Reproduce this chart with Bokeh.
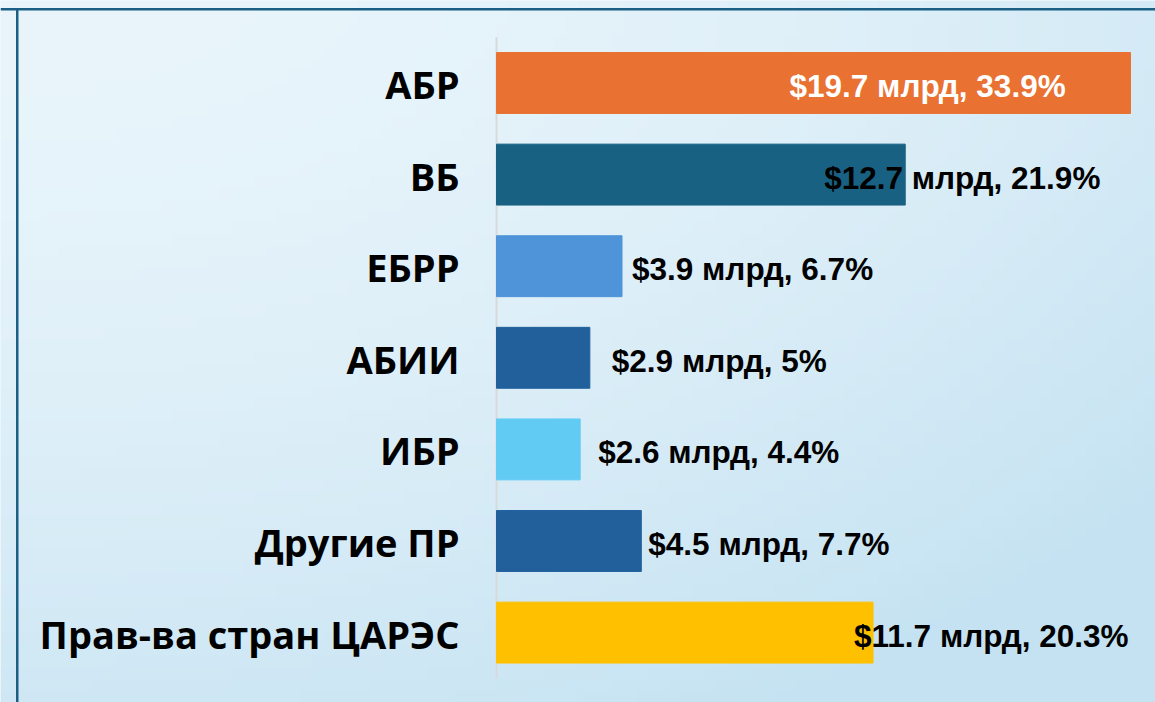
import numpy as np
from bokeh.plotting import figure
from bokeh.models import ColumnDataSource, Range1d, BoxAnnotation
from bokeh.core.properties import value
from bokeh.embed import file_html
from bokeh.resources import INLINE

# ---- data ----
categories = ["АБР", "ВБ", "ЕБРР", "АБИИ", "ИБР", "Другие ПР", "Прав-ва стран ЦАРЭС"]
amounts = [19.7, 12.7, 3.9, 2.9, 2.6, 4.5, 11.7]          # $ billion
shares = ["33.9%", "21.9%", "6.7%", "5%", "4.4%", "7.7%", "20.3%"]

# ---- styles ----
bar_colors = ["#E97132", "#186182", "#4F94D8", "#22609C", "#61CBF4", "#22609C", "#FFC000"]
label_colors = ["white", "black", "black", "black", "black", "black", "black"]
label_dx = [-341, -81, 10, 22, 18, 7, -19]   # label offset from bar end, px

W, H = 1155, 702
X0 = 496.0                   # pixel of zero
PPU = 634.0 / 19.7           # pixels per unit
Y_FIRST = 82.5               # pixel centre of first bar
BAND = 91.6                  # pixel spacing between bars

n = len(categories)
idx = list(range(n))
labels = [f"${a} млрд, {s}" for a, s in zip(amounts, shares)]

src = ColumnDataSource(dict(
    idx=idx, cat=categories, amount=amounts, label=labels,
    color=bar_colors, lcolor=label_colors, dx=label_dx,
))

xr = Range1d(-X0 / PPU, (W - X0) / PPU)
yr = Range1d((H - Y_FIRST) / BAND, -Y_FIRST / BAND)
p = figure(width=W, height=H, output_backend="svg", toolbar_location=None,
           x_range=xr, y_range=yr, min_border=0, outline_line_color=None)
p.axis.visible = False
p.grid.visible = False
p.background_fill_color = "#E8F4FA"
p.border_fill_color = "#E8F4FA"

# soft slide background gradient (row 0 = top of the slide)
gh, gw = 60, 100
gy, gx = np.mgrid[0:gh, 0:gw]
t = np.clip(0.55 * (gx / (gw - 1)) ** 2 + 0.7 * (gy / (gh - 1)) ** 1.6, 0, 1)
c0 = np.array([233, 245, 251]); c1 = np.array([196, 226, 242])
rgb = (c0[None, None, :] * (1 - t[..., None]) + c1[None, None, :] * t[..., None]).astype(np.uint32)
img = ((255 << 24) | (rgb[..., 2] << 16) | (rgb[..., 1] << 8) | rgb[..., 0]).astype(np.uint32)
p.image_rgba(image=[img], x=xr.start, y=yr.end, dw=xr.end - xr.start, dh=yr.start - yr.end)

# frame lines of the slide (screen y is measured from the bottom)
p.add_layout(BoxAnnotation(left=0, right=W, top=H - 7.5, bottom=H - 10,
                           left_units="screen", right_units="screen",
                           top_units="screen", bottom_units="screen",
                           fill_color="#1B5F85", fill_alpha=1, line_color=None))
p.add_layout(BoxAnnotation(left=15.5, right=18, top=H - 8, bottom=0,
                           left_units="screen", right_units="screen",
                           top_units="screen", bottom_units="screen",
                           fill_color="#1B5F85", fill_alpha=1, line_color=None))

# axis line
p.segment(x0=0, y0=-0.5, x1=0, y1=n - 0.5, line_color="#D9D9D9", line_width=2)

p.hbar(y="idx", left=0, right="amount", height=0.665, color="color", source=src)

p.text(x=0, y="idx", text="cat", source=src, x_offset=-37, y_offset=1,
       text_align="right", text_baseline="middle",
       text_font=value("Open Sans"), text_font_style="bold",
       text_font_size="38px", text_color="black")

p.text(x="amount", y="idx", text="label", source=src, x_offset="dx", y_offset=3,
       text_align="left", text_baseline="middle",
       text_font=value("Liberation Sans"), text_font_style="bold",
       text_font_size="31.5px", text_color="lcolor")

open("out.html", "w").write(file_html(p, INLINE))
